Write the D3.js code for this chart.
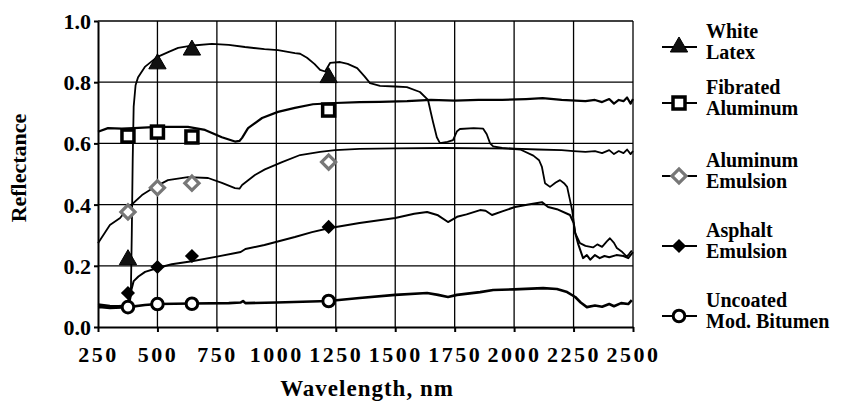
<!DOCTYPE html>
<html><head><meta charset="utf-8">
<script src="https://cdn.jsdelivr.net/npm/d3@7"></script>
<style>
body{margin:0;background:#fff;}
svg text{font-family:"Liberation Serif","Times New Roman",Times,serif !important;font-weight:bold;fill:#000;}
</style></head>
<body><svg id="c" width="859" height="403"></svg>
<script>
// ---- data ----
const xTicks = [250,500,750,1000,1250,1500,1750,2000,2250,2500];
const yTicks = [0,0.2,0.4,0.6,0.8,1.0];
const seriesNames = ["White Latex","Fibrated Aluminum","Aluminum Emulsion","Asphalt Emulsion","Uncoated Mod. Bitumen"];
const legendLines = [["White","Latex"],["Fibrated","Aluminum"],["Aluminum","Emulsion"],["Asphalt","Emulsion"],["Uncoated","Mod. Bitumen"]];

const whiteLatex = [[250,0.075],[300,0.07],[350,0.068],[380,0.07],[388,0.1],[392,0.3],[396,0.55],[400,0.72],[408,0.79],[418,0.815],[447,0.85],[498,0.882],[550,0.9],[587,0.912],[650,0.92],[729,0.925],[800,0.922],[868,0.915],[950,0.908],[1007,0.905],[1078,0.895],[1100,0.893],[1129,0.88],[1160,0.86],[1184,0.84],[1205,0.835],[1226,0.863],[1268,0.866],[1300,0.86],[1340,0.846],[1370,0.82],[1394,0.797],[1436,0.788],[1500,0.786],[1549,0.784],[1604,0.768],[1638,0.742],[1650,0.7],[1659,0.67],[1675,0.62],[1688,0.601],[1720,0.605],[1743,0.611],[1760,0.64],[1772,0.647],[1830,0.65],[1870,0.648],[1885,0.63],[1899,0.6],[1912,0.59],[1950,0.585],[2026,0.58],[2081,0.56],[2105,0.545],[2117,0.523],[2130,0.47],[2151,0.458],[2175,0.472],[2193,0.48],[2210,0.47],[2223,0.458],[2244,0.382],[2257,0.307],[2277,0.274],[2300,0.265],[2332,0.26],[2350,0.27],[2370,0.262],[2390,0.28],[2403,0.29],[2420,0.275],[2432,0.258],[2455,0.245],[2474,0.23],[2485,0.24],[2495,0.25]];
const fibratedAl = [[250,0.638],[292,0.65],[350,0.648],[400,0.65],[500,0.654],[628,0.654],[700,0.644],[771,0.62],[826,0.606],[845,0.608],[856,0.618],[881,0.65],[940,0.683],[1007,0.703],[1078,0.716],[1154,0.728],[1247,0.732],[1350,0.735],[1436,0.736],[1550,0.738],[1650,0.742],[1750,0.74],[1850,0.742],[1950,0.742],[2050,0.745],[2120,0.748],[2200,0.742],[2260,0.74],[2300,0.738],[2340,0.742],[2370,0.735],[2400,0.745],[2420,0.73],[2440,0.742],[2460,0.738],[2475,0.75],[2490,0.73],[2500,0.745]];
const alEmulsion = [[250,0.274],[300,0.333],[343,0.356],[376,0.389],[435,0.431],[490,0.458],[544,0.48],[628,0.49],[713,0.487],[771,0.471],[826,0.454],[845,0.452],[856,0.464],[910,0.497],[952,0.515],[1024,0.539],[1100,0.562],[1184,0.572],[1247,0.578],[1350,0.582],[1500,0.584],[1700,0.585],[1900,0.584],[2000,0.583],[2100,0.58],[2200,0.578],[2250,0.575],[2300,0.572],[2340,0.575],[2370,0.568],[2400,0.578],[2420,0.565],[2440,0.575],[2460,0.568],[2475,0.58],[2490,0.565],[2500,0.575]];
const asphaltEm = [[250,0.07],[300,0.067],[370,0.07],[380,0.09],[390,0.12],[400,0.15],[420,0.165],[448,0.18],[500,0.193],[560,0.205],[645,0.215],[750,0.23],[850,0.245],[870,0.255],[950,0.268],[1078,0.294],[1150,0.31],[1220,0.323],[1350,0.34],[1500,0.356],[1580,0.37],[1634,0.376],[1680,0.365],[1722,0.343],[1760,0.36],[1800,0.368],[1857,0.382],[1880,0.38],[1907,0.366],[1950,0.378],[2004,0.392],[2060,0.4],[2117,0.408],[2143,0.392],[2180,0.385],[2235,0.366],[2250,0.34],[2257,0.307],[2270,0.27],[2290,0.225],[2306,0.235],[2320,0.22],[2340,0.235],[2360,0.225],[2380,0.232],[2400,0.228],[2430,0.235],[2460,0.232],[2480,0.225],[2500,0.245]];
const bitumen = [[250,0.065],[267,0.065],[300,0.062],[376,0.065],[447,0.072],[500,0.075],[645,0.077],[800,0.078],[850,0.08],[860,0.085],[870,0.078],[1000,0.08],[1220,0.085],[1350,0.095],[1500,0.105],[1634,0.111],[1680,0.105],[1722,0.098],[1760,0.105],[1857,0.114],[1912,0.121],[2000,0.123],[2122,0.127],[2180,0.124],[2223,0.114],[2257,0.098],[2280,0.08],[2306,0.065],[2340,0.07],[2370,0.066],[2400,0.075],[2420,0.068],[2450,0.078],[2480,0.075],[2495,0.088]];

const markerWl = [376,500,645,1220];
const latexMk = [0.22,0.86,0.905,0.815];
const fibratedMk = [0.624,0.637,0.621,0.709];
const alEmMk = [0.376,0.455,0.47,0.539];
const asphaltMk = [0.111,0.196,0.232,0.327];
const bitumenMk = [0.065,0.075,0.076,0.085];

// ---- layout ----
const FONT = '"Liberation Serif","Times New Roman",Times,serif';
const svg = d3.select("#c");
const x = d3.scaleLinear().domain([250,2500]).range([98,633]);
const y = d3.scaleLinear().domain([0,1]).range([327,21]);

// grid
svg.append("g").selectAll("line").data(xTicks.slice(1)).join("line")
  .attr("x1",d=>x(d)).attr("x2",d=>x(d)).attr("y1",y(0)).attr("y2",y(1))
  .attr("stroke","#000").attr("stroke-width",1.3);
svg.append("g").selectAll("line").data(yTicks.slice(1)).join("line")
  .attr("x1",x(250)).attr("x2",x(2500)).attr("y1",d=>y(d)).attr("y2",d=>y(d))
  .attr("stroke","#000").attr("stroke-width",1.3);

// axes
const xAxis = svg.append("g").attr("transform",`translate(0,${y(0)})`)
  .call(d3.axisBottom(x).tickValues(xTicks).tickSize(5).tickSizeOuter(0).tickFormat(d3.format("d")));
const yAxis = svg.append("g").attr("transform",`translate(${x(250)},0)`)
  .call(d3.axisLeft(y).tickValues(yTicks).tickSize(4).tickSizeOuter(0).tickFormat(d3.format(".1f")));
[xAxis,yAxis].forEach(a=>{
  a.attr("font-family",FONT);
  a.selectAll("path.domain").attr("stroke","#000").attr("stroke-width",2);
  a.selectAll(".tick line").attr("stroke","#000").attr("stroke-width",2);
  a.selectAll("text").style("font-family",FONT).style("font-weight","bold").style("font-size","22px").attr("fill","#000");
});
xAxis.selectAll("text").attr("y",35).attr("dy",null).style("letter-spacing","2.5px");
yAxis.selectAll("text").attr("x",-7).attr("dy","0.34em");

// titles
svg.append("text").attr("x",367).attr("y",396).attr("text-anchor","middle")
  .style("font-size","23px").style("letter-spacing","1px").text("Wavelength, nm");
svg.append("text").attr("transform","translate(26,168) rotate(-90)").attr("text-anchor","middle")
  .style("font-size","22px").text("Reflectance");

// curves
const line = d3.line().x(d=>x(d[0])).y(d=>y(d[1]));
const curves = [whiteLatex,fibratedAl,alEmulsion,asphaltEm,bitumen];
const curveW = [1.8,2.2,1.8,2.0,2.6];
svg.append("g").selectAll("path").data(curves).join("path")
  .attr("d",line).attr("fill","none").attr("stroke","#000")
  .attr("stroke-width",(d,i)=>curveW[i]).attr("stroke-linejoin","round");

// marker drawing
function drawMarker(g,type,cx,cy){
  if(type===0){
    g.append("path").attr("d",d3.symbol().type(d3.symbolTriangle).size(130)())
      .attr("transform",`translate(${cx},${cy})`).attr("fill","#111").attr("stroke","#000").attr("stroke-width",1);
  } else if(type===1){
    g.append("rect").attr("x",cx-6).attr("y",cy-6).attr("width",12).attr("height",12)
      .attr("fill","#fff").attr("stroke","#000").attr("stroke-width",3.5);
  } else if(type===2){
    g.append("rect").attr("x",-5).attr("y",-5).attr("width",10).attr("height",10)
      .attr("transform",`translate(${cx},${cy}) rotate(45)`)
      .attr("fill","#fff").attr("stroke","#777").attr("stroke-width",3.2);
  } else if(type===3){
    g.append("rect").attr("x",-5).attr("y",-5).attr("width",10).attr("height",10)
      .attr("transform",`translate(${cx},${cy}) rotate(45)`).attr("fill","#000");
  } else {
    g.append("circle").attr("cx",cx).attr("cy",cy).attr("r",5.8)
      .attr("fill","#fff").attr("stroke","#000").attr("stroke-width",3);
  }
}
const markers = [latexMk,fibratedMk,alEmMk,asphaltMk,bitumenMk];
const mg = svg.append("g");
markers.forEach((vals,i)=>{
  vals.forEach((v,j)=>drawMarker(mg,i,x(markerWl[j]),y(v)));
});

// legend
const legY = [47,103,176,246,316];
const lg = svg.append("g");
seriesNames.forEach((name,i)=>{
  const cy = legY[i];
  lg.append("line").attr("x1",662).attr("x2",697).attr("y1",cy).attr("y2",cy)
    .attr("stroke","#000").attr("stroke-width",2.2);
  drawMarker(lg,i,679,cy);
  lg.append("text").attr("x",706).attr("y",cy-9).style("font-size","20px").text(legendLines[i][0]);
  lg.append("text").attr("x",706).attr("y",cy+12).style("font-size","20px").text(legendLines[i][1]);
});
</script></body></html>
